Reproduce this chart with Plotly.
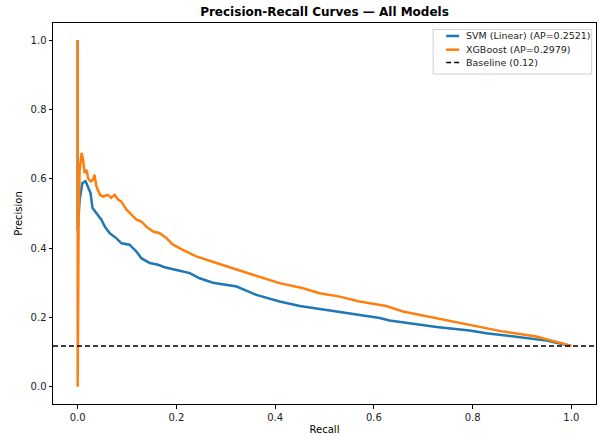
import plotly.graph_objects as go

# SVM (Linear) precision-recall curve
svm_recall = [0.0, 0.0, 0.004, 0.0095, 0.016, 0.021, 0.026, 0.030, 0.038, 0.048, 0.055, 0.065,
              0.078, 0.089, 0.105, 0.119, 0.129, 0.146, 0.163, 0.176, 0.2, 0.227, 0.247, 0.274,
              0.322, 0.362, 0.409, 0.45, 0.511, 0.571, 0.612, 0.632, 0.727, 0.794, 0.828, 0.896,
              0.95, 0.97, 1.0]
svm_precision = [1.0, 0.45, 0.54, 0.588, 0.593, 0.578, 0.559, 0.516, 0.501, 0.482, 0.462, 0.443,
                 0.429, 0.414, 0.41, 0.39, 0.371, 0.357, 0.352, 0.345, 0.337, 0.328, 0.313, 0.30,
                 0.289, 0.265, 0.246, 0.233, 0.22, 0.207, 0.198, 0.191, 0.172, 0.162, 0.154, 0.143,
                 0.133, 0.127, 0.1177]

# XGBoost precision-recall curve
xgb_recall = [0.0, 0.0, 0.002, 0.004, 0.008, 0.011, 0.014, 0.018, 0.021, 0.026, 0.031, 0.034,
              0.038, 0.045, 0.051, 0.061, 0.068, 0.075, 0.082, 0.088, 0.099, 0.109, 0.119, 0.129,
              0.139, 0.153, 0.166, 0.18, 0.193, 0.213, 0.24, 0.281, 0.322, 0.355, 0.409, 0.457,
              0.49, 0.531, 0.571, 0.612, 0.625, 0.659, 0.727, 0.794, 0.862, 0.929, 0.963, 1.0]
xgb_precision = [1.0, 0.0, 0.5, 0.626, 0.675, 0.655, 0.617, 0.626, 0.602, 0.593, 0.597, 0.612,
                 0.578, 0.554, 0.549, 0.554, 0.545, 0.554, 0.54, 0.535, 0.511, 0.496, 0.482, 0.477,
                 0.462, 0.448, 0.443, 0.429, 0.41, 0.395, 0.376, 0.357, 0.337, 0.323, 0.299, 0.284,
                 0.27, 0.26, 0.246, 0.236, 0.233, 0.217, 0.198, 0.178, 0.159, 0.145, 0.133, 0.1177]

baseline = 0.1177
x_range = [-0.05, 1.05]
y_range = [-0.05, 1.05]
tick_vals = [0.0, 0.2, 0.4, 0.6, 0.8, 1.0]
tick_text = ["0.0", "0.2", "0.4", "0.6", "0.8", "1.0"]
legend_labels = ["SVM (Linear) (AP=0.2521)", "XGBoost (AP=0.2979)", "Baseline (0.12)"]

font = "DejaVu Sans, Liberation Sans, sans-serif"
colors = ["#1f77b4", "#ff7f0e", "black"]
widths = [2.5, 2.5, 1.5]
dashes = ["solid", "solid", "5px,3px"]

fig = go.Figure()
fig.add_trace(go.Scatter(x=svm_recall, y=svm_precision, mode="lines", name=legend_labels[0],
                         line=dict(color=colors[0], width=widths[0])))
fig.add_trace(go.Scatter(x=xgb_recall, y=xgb_precision, mode="lines", name=legend_labels[1],
                         line=dict(color=colors[1], width=widths[1])))
fig.add_trace(go.Scatter(x=x_range, y=[baseline, baseline], mode="lines", name=legend_labels[2],
                         line=dict(color=colors[2], width=widths[2], dash=dashes[2])))

# matplotlib-style compact legend box (paper coordinates)
box = dict(x0=0.700, x1=0.992, y0=0.866, y1=0.983)
row_y = [0.966, 0.930, 0.896]
key_x = [0.724, 0.748]
text_x = 0.756
fig.add_shape(type="rect", xref="paper", yref="paper", **box,
              line=dict(color="#d0d0d0", width=1), fillcolor="rgba(255,255,255,0.8)", layer="above")
for lab, yy, c, w, d in zip(legend_labels, row_y, colors, widths, dashes):
    fig.add_shape(type="line", xref="paper", yref="paper", x0=key_x[0], x1=key_x[1], y0=yy, y1=yy,
                  line=dict(color=c, width=w, dash=d), layer="above")
    fig.add_annotation(xref="paper", yref="paper", x=text_x, y=yy, text=lab, showarrow=False,
                       xanchor="left", yanchor="middle",
                       font=dict(family=font, size=9.5, color="#222"))

axis_common = dict(showgrid=False, zeroline=False, showline=True, linecolor="black",
                   linewidth=1, mirror=True, ticks="outside", ticklen=3.5, tickwidth=1,
                   tickcolor="black", tickfont=dict(family=font, size=10, color="#222"),
                   tickvals=tick_vals, ticktext=tick_text)

fig.update_layout(
    width=599, height=437,
    margin=dict(l=53, r=3, t=23, b=33),
    paper_bgcolor="white", plot_bgcolor="white",
    title=dict(text="<b>Precision-Recall Curves — All Models</b>", x=0.5, xref="paper",
               y=0.972, yref="container", yanchor="middle",
               font=dict(family=font, size=12, color="black")),
    xaxis=dict(range=x_range, title=dict(text="Recall", standoff=4,
                                         font=dict(family=font, size=10, color="black")),
               **axis_common),
    yaxis=dict(range=y_range, title=dict(text="Precision", standoff=6,
                                         font=dict(family=font, size=10, color="black")),
               **axis_common),
    showlegend=False,
)

fig.write_html("out.html")
